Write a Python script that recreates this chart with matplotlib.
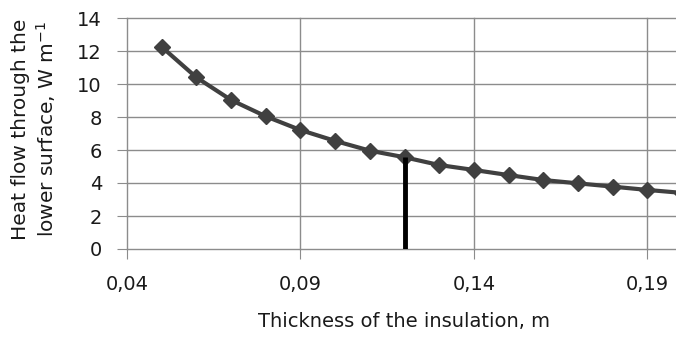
import matplotlib
matplotlib.use('Agg')
import matplotlib.pyplot as plt

# data
thickness = [0.05, 0.06, 0.07, 0.08, 0.09, 0.10, 0.11, 0.12, 0.13, 0.14,
             0.15, 0.16, 0.17, 0.18, 0.19, 0.20]
heat_flow = [12.25, 10.4, 9.03, 8.04, 7.21, 6.55, 5.96, 5.56, 5.09, 4.79,
             4.48, 4.18, 3.98, 3.78, 3.58, 3.4]
marker_x = 0.12
marker_top = 5.56
xticks = [0.04, 0.09, 0.14, 0.19]
xtick_labels = ['0,04', '0,09', '0,14', '0,19']
yticks = [0, 2, 4, 6, 8, 10, 12, 14]

plt.rcParams['font.family'] = ['DejaVu Sans']

fig = plt.figure(figsize=(6.76, 3.44), dpi=100)
ax = fig.add_axes([127/676, 95/344, 555/676, 231/344])

ax.plot(thickness, heat_flow, color='#404040', lw=3, marker='D', ms=8,
        clip_on=True, zorder=3)
ax.plot([marker_x, marker_x], [0, marker_top], color='black', lw=3.5,
        solid_capstyle='butt', zorder=4)

ax.set_xlim(0.04, 0.20)
ax.set_ylim(0, 14)
ax.set_xticks(xticks)
ax.set_xticklabels(xtick_labels)
ax.set_yticks(yticks)
ax.grid(True, color='#8c8c8c', lw=1)
ax.set_axisbelow(True)
# keep edge grid lines (0 and 0,04) at full width
for gl in ax.get_xgridlines() + ax.get_ygridlines():
    gl.set_clip_on(False)
for s in ax.spines.values():
    s.set_visible(False)
ax.tick_params(axis='both', labelsize=14, color='#8c8c8c', length=7,
               labelcolor='#1a1a1a')
ax.tick_params(axis='x', pad=12)
ax.tick_params(axis='y', pad=11)

ax.set_xlabel('Thickness of the insulation, m', fontsize=14, labelpad=13,
              color='#1a1a1a')
ax.set_ylabel('Heat flow through the\nlower surface, W m$^{-1}$', fontsize=14.5,
              color='#1a1a1a')
ax.yaxis.set_label_coords(-0.125, 0.52)

fig.savefig('out.png', dpi=100)
